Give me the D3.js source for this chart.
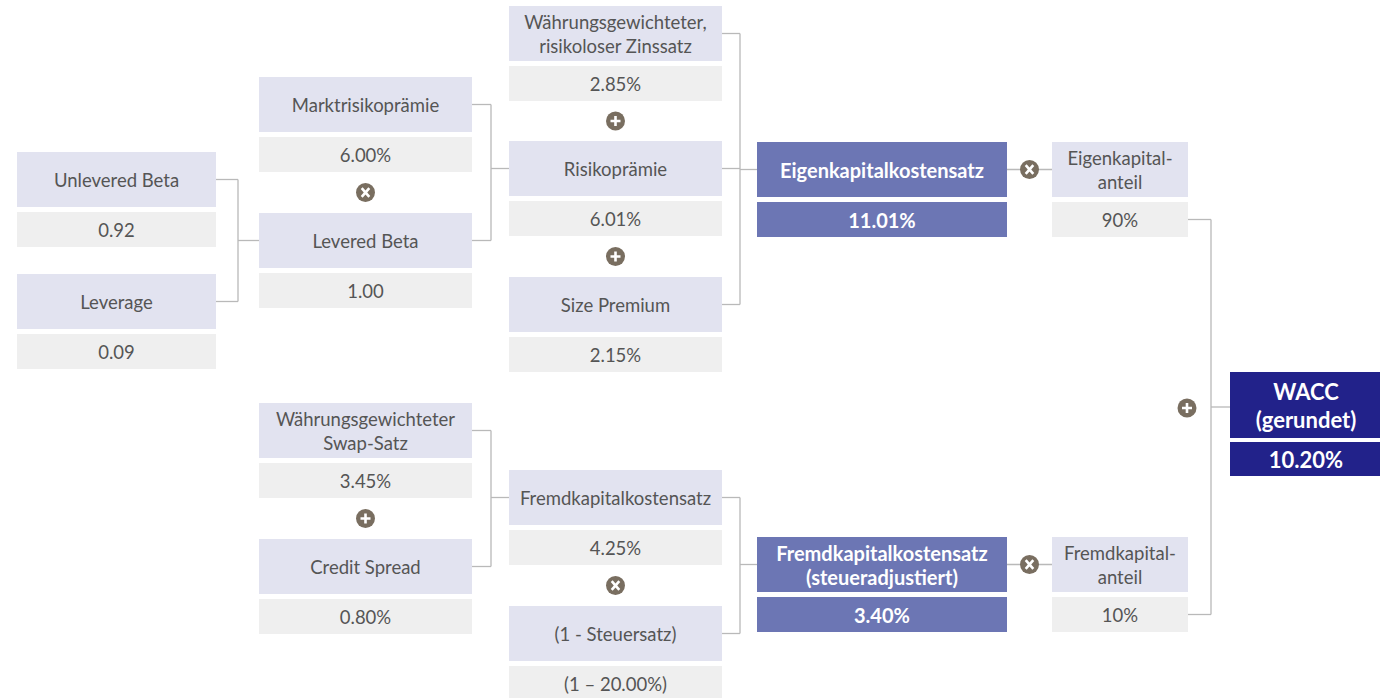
<!DOCTYPE html>
<html><head><meta charset="utf-8">
<script src="https://cdn.jsdelivr.net/npm/d3@7"></script>
<style>html,body{margin:0;padding:0;background:#fff;}svg{display:block;}</style>
</head><body>
<svg id="chart" width="1380" height="698"></svg>
<script>
// ---- data ----
const nodeLabels = [
  "Unlevered Beta", "Leverage", "Marktrisikoprämie", "Levered Beta",
  "Währungsgewichteter,\nrisikoloser Zinssatz", "Risikoprämie", "Size Premium",
  "Eigenkapitalkostensatz", "Eigenkapital-\nanteil",
  "Währungsgewichteter\nSwap-Satz", "Credit Spread", "Fremdkapitalkostensatz",
  "(1 - Steuersatz)", "Fremdkapitalkostensatz\n(steueradjustiert)", "Fremdkapital-\nanteil",
  "WACC\n(gerundet)"
];
const nodeValues = [0.92, 0.09, 6.00, 1.00, 2.85, 6.01, 2.15, 11.01, 90, 3.45, 0.80, 4.25, 20.00, 3.40, 10, 10.20];
const valueFormats = ["num","num","pct","num","pct","pct","pct","pct","pct0","pct","pct","pct","tax","pct","pct0","pct"];
const nodeKinds = ["in","in","in","in","in","in","in","hi","in","in","in","in","in","hi","in","total"];
// groups of inputs that combine into a result
const merges = [[[0,1],3],[[2,3],5],[[4,5,6],7],[[9,10],11],[[11,12],13]];
// operators between stacked / side-by-side nodes
const stackedOps = [["x",2,3],["+",4,5],["+",5,6],["+",9,10],["x",11,12]];
const sideOps = [["x",7,8],["x",13,14]];
const finalInputs = [8,14];
const finalNode = 15;

// ---- layout (not data) ----
const colLeft = [17, 259, 509, 757, 1052, 1230];
const colWidth = [199, 213, 213, 250, 136, 152];
const nodeCol = [0,0,1,1,2,2,2,3,4,1,1,2,2,3,4,5];
const nodeTop = [152,274,77,213,6,141,277,142,142,403,539,470,606,537,537,372];

const xScale = d3.scaleOrdinal().domain(d3.range(colLeft.length)).range(colLeft);
const wScale = d3.scaleOrdinal().domain(d3.range(colWidth.length)).range(colWidth);
const yScale = d3.scaleLinear().domain([0, 698]).range([0, 698]);

const fmt2 = d3.format(".2f");
function fmtVal(v, f){
  if (f === "num") return fmt2(v);
  if (f === "pct") return fmt2(v) + "%";
  if (f === "pct0") return d3.format("d")(v) + "%";
  if (f === "tax") return "(1 – " + fmt2(v) + "%)";
  return String(v);
}

const nodes = nodeLabels.map((l, i) => {
  const total = nodeKinds[i] === "total";
  const lh = total ? 66 : 55;
  const gap = total ? 4 : 5;
  const vh = total ? 34 : 35;
  const x = xScale(nodeCol[i]), w = wScale(nodeCol[i]);
  const y = yScale(nodeTop[i]);
  return {i, label: l, value: fmtVal(nodeValues[i], valueFormats[i]), kind: nodeKinds[i],
    x, w, y, lh, gap, vh, right: x + w, cy: y + lh / 2, vy: y + lh + gap, vcy: y + lh + gap + vh / 2,
    bottom: y + lh + gap + vh};
});

const svg = d3.select("#chart");
const FONT = "Lato, 'Open Sans', sans-serif";
const lineColor = "#b9b9b9";
const gLines = svg.append("g").attr("fill","none").attr("stroke",lineColor).attr("stroke-width",1.3);

// merge connectors
merges.forEach(([srcs, t]) => {
  const tn = nodes[t];
  const srcN = srcs.map(s => nodes[s]);
  const srcRight = d3.max(srcN, d => d.right);
  const xm = Math.round((srcRight + tn.x) / 2);
  srcN.forEach(s => gLines.append("path").attr("d", `M${s.right},${s.cy}H${xm}`));
  const ys = srcN.map(s => s.cy);
  gLines.append("path").attr("d", `M${xm},${d3.min(ys)}V${d3.max(ys)}`);
  gLines.append("path").attr("d", `M${xm},${tn.cy}H${tn.x}`);
});
// side connectors
sideOps.forEach(([op,a,b]) => {
  gLines.append("path").attr("d", `M${nodes[a].right},${nodes[a].cy}H${nodes[b].x}`);
});
// final connector
const fn = nodes[finalNode];
const fin = finalInputs.map(i => nodes[i]);
const fxm = Math.round((d3.max(fin, d => d.right) + fn.x) / 2) + 2;
fin.forEach(n => gLines.append("path").attr("d", `M${n.right},${n.vcy}H${fxm}`));
gLines.append("path").attr("d", `M${fxm},${d3.min(fin, d=>d.vcy)}V${d3.max(fin, d=>d.vcy)}`);
gLines.append("path").attr("d", `M${fxm},${fn.cy + 2}H${fn.x}`);

// boxes
const fills = {in:["#e2e3f0","#efefef","#555555"], hi:["#6c76b4","#6c76b4","#ffffff"], total:["#22228a","#22228a","#ffffff"]};
const sizes = {in:18.5, hi:20, total:22};
const gNodes = svg.append("g");
nodes.forEach(n => {
  const [lf, vf, tc] = fills[n.kind];
  const bold = n.kind !== "in";
  const fs = sizes[n.kind];
  gNodes.append("rect").attr("x", n.x).attr("y", n.y).attr("width", n.w).attr("height", n.lh).attr("fill", lf);
  gNodes.append("rect").attr("x", n.x).attr("y", n.vy).attr("width", n.w).attr("height", n.vh).attr("fill", vf);
  const lines = n.label.split("\n");
  const lsp = n.kind === "total" ? 28 : 24;
  const t = gNodes.append("text").attr("text-anchor","middle").attr("font-family",FONT)
    .attr("font-size", fs).attr("font-weight", bold ? 700 : 400).attr("fill", tc);
  lines.forEach((ln, k) => {
    t.append("tspan").attr("x", n.x + n.w/2)
      .attr("y", n.cy + 1 + (k - (lines.length-1)/2) * lsp).attr("dy","0.36em").text(ln);
  });
  gNodes.append("text").attr("text-anchor","middle").attr("font-family",FONT)
    .attr("font-size", fs).attr("font-weight", bold ? 700 : 400).attr("fill", tc)
    .attr("x", n.x + n.w/2).attr("y", n.vcy + 1).attr("dy","0.36em").text(n.value);
});

// operator circles
const gOps = svg.append("g");
function drawOp(op, cx, cy){
  const g = gOps.append("g").attr("transform", `translate(${cx},${cy})`);
  g.append("circle").attr("r", 9.5).attr("fill", "#796e60");
  if (op === "+") {
    g.append("path").attr("d","M-5,0H5M0,-5V5").attr("stroke","#fff").attr("stroke-width",2.6);
  } else {
    g.append("path").attr("d","M-3.8,-4.4L3.8,4.4M3.8,-4.4L-3.8,4.4").attr("stroke","#fff").attr("stroke-width",2.6);
  }
}
stackedOps.forEach(([op,a,b]) => {
  const na = nodes[a], nb = nodes[b];
  drawOp(op, na.x + na.w/2, (na.bottom + nb.y)/2);
});
sideOps.forEach(([op,a,b]) => {
  const na = nodes[a], nb = nodes[b];
  drawOp(op, (na.right + nb.x)/2, na.cy);
});
drawOp("+", fxm - 24, fn.cy + 3);
</script>
</body></html>
